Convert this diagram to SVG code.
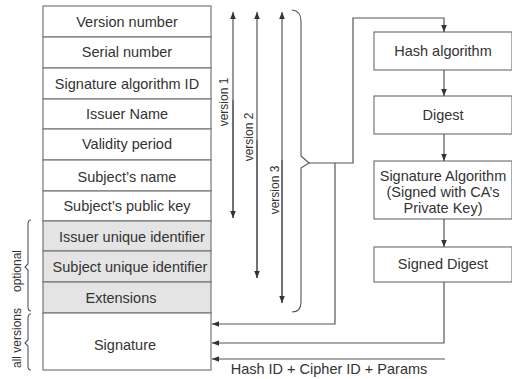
<svg xmlns="http://www.w3.org/2000/svg" width="512" height="379" viewBox="0 0 512 379">
<style>
.box{fill:#fff;stroke:#777;stroke-width:1.2}
.sh{fill:#e4e4e4;stroke:#777;stroke-width:1.2}
.t{font-family:"Liberation Sans",Arial,sans-serif;font-size:14.5px;fill:#333;text-anchor:middle}
.s{font-family:"Liberation Sans",Arial,sans-serif;font-size:12px;fill:#333;text-anchor:middle}
.ln{fill:none;stroke:#555;stroke-width:1.2}
.br{fill:none;stroke:#555;stroke-width:1.1}
</style>
<defs>
<marker id="ah" viewBox="0 0 10 10" refX="10" refY="5" markerWidth="7" markerHeight="7" markerUnits="userSpaceOnUse" orient="auto"><path d="M0,1 L10,5 L0,9 z" fill="#333"/></marker>
</defs>
<g id="table">
<g id="r1"><rect class="box" x="43" y="6" width="168" height="31"/><text class="t" x="127" y="27">Version number</text></g>
<g id="r2"><rect class="box" x="43" y="37" width="168" height="31"/><text class="t" x="127" y="57">Serial number</text></g>
<g id="r3"><rect class="box" x="43" y="68" width="168" height="31"/><text class="t" x="127" y="89">Signature algorithm ID</text></g>
<g id="r4"><rect class="box" x="43" y="99" width="168" height="30"/><text class="t" x="127" y="119">Issuer Name</text></g>
<g id="r5"><rect class="box" x="43" y="129" width="168" height="31"/><text class="t" x="127" y="149">Validity period</text></g>
<g id="r6"><rect class="box" x="43" y="160" width="168" height="31"/><text class="t" x="127" y="182">Subject’s name</text></g>
<g id="r7"><rect class="box" x="43" y="191" width="168" height="30"/><text class="t" x="127" y="211">Subject’s public key</text></g>
<g id="r8"><rect class="sh" x="43" y="221" width="168" height="30"/><text class="t" x="132" y="242">Issuer unique identifier</text></g>
<g id="r9"><rect class="sh" x="43" y="251" width="168" height="31"/><text class="t" x="130" y="272">Subject unique identifier</text></g>
<g id="r10"><rect class="sh" x="43" y="282" width="168" height="31"/><text class="t" x="121" y="303">Extensions</text></g>
<g id="r11"><rect class="box" x="43" y="313" width="168" height="57"/><text class="t" x="125" y="350">Signature</text></g>
</g>
<g id="hash"><rect class="box" x="374" y="32" width="138" height="38"/><text class="t" x="443" y="56">Hash algorithm</text></g>
<g id="digest"><rect class="box" x="374" y="96" width="138" height="38"/><text class="t" x="443" y="120">Digest</text></g>
<g id="sigalg"><rect class="box" x="374" y="161" width="138" height="58"/><text class="t" x="443" y="181">Signature Algorithm</text><text class="t" x="443" y="197">(Signed with CA’s</text><text class="t" x="443" y="213">Private Key)</text></g>
<g id="signed"><rect class="box" x="374" y="247" width="138" height="35"/><text class="t" x="443" y="269">Signed Digest</text></g>
<g id="labels">
<text class="s" transform="translate(228,102) rotate(-90)">version 1</text>
<text class="s" transform="translate(253,137) rotate(-90)">version 2</text>
<text class="s" transform="translate(279,190) rotate(-90)">version 3</text>
<text class="s" transform="translate(21,271) rotate(-90)">optional</text>
<text class="s" transform="translate(21,338) rotate(-90)">all versions</text>
<text class="t" x="329" y="374">Hash ID + Cipher ID + Params</text>
</g>
<g id="braces">
<path class="br" d="M292,10 Q301,11 301,21 L301,156 L309,163 L301,168 L301,302 Q301,312 292,312"/>
<path class="br" d="M31,220 Q28,220 28,224 L28,264 L25,267 L28,270 L28,307 Q28,311 31,311"/>
<path class="br" d="M31,314 Q28,314 28,318 L28,340 L25,343 L28,346 L28,366 Q28,370 31,370"/>
</g>
<g id="connectors">
<line class="ln" x1="233" y1="218" x2="233" y2="12" marker-end="url(#ah)"/>
<line class="ln" x1="233" y1="100" x2="233" y2="218" marker-end="url(#ah)"/>
<line class="ln" x1="257" y1="278" x2="257" y2="12" marker-end="url(#ah)"/>
<line class="ln" x1="257" y1="140" x2="257" y2="278" marker-end="url(#ah)"/>
<line class="ln" x1="282" y1="303" x2="282" y2="12" marker-end="url(#ah)"/>
<line class="ln" x1="282" y1="160" x2="282" y2="303" marker-end="url(#ah)"/>
<polyline class="ln" points="309,163 353,163 353,18 444,18 444,32" marker-end="url(#ah)"/>
<polyline class="ln" points="335,163 335,324 212,324" marker-end="url(#ah)"/>
<line class="ln" x1="444" y1="70" x2="444" y2="96" marker-end="url(#ah)"/>
<line class="ln" x1="444" y1="134" x2="444" y2="161" marker-end="url(#ah)"/>
<line class="ln" x1="444" y1="219" x2="444" y2="247" marker-end="url(#ah)"/>
<polyline class="ln" points="444,282 444,343 212,343" marker-end="url(#ah)"/>
<line class="ln" x1="445" y1="359" x2="212" y2="359" marker-end="url(#ah)"/>
</g>
</svg>
